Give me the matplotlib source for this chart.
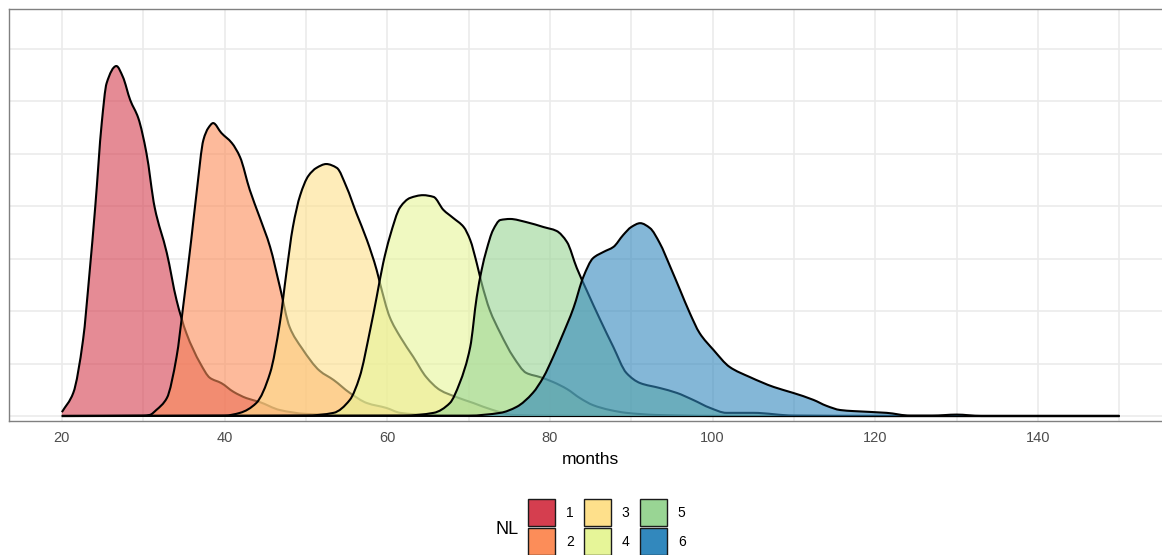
import numpy as np
import matplotlib
matplotlib.use("Agg")
import matplotlib.pyplot as plt
from matplotlib.path import Path
from matplotlib.patches import PathPatch, Rectangle

plt.rcParams['font.family'] = ['Liberation Sans', 'DejaVu Sans']

# ---- data ----
groups = ["1", "2", "3", "4", "5", "6"]
colors = ["#D53E4F", "#FC8D59", "#FEE08B", "#E6F598", "#99D594", "#3288BD"]

nl1_months = [20, 21.4, 22.6, 23.4, 24.1, 24.9, 25.5, 26.7, 27.5, 28.4, 29.4, 30.4, 31.4,
              32.9, 34.1, 35.3, 37.0, 38.2, 39.6, 41.1, 42.7, 44.3, 46.8, 50, 55, 60, 70, 150]
nl1_density = [0.0011, 0.0066, 0.0217, 0.0409, 0.0597, 0.0837, 0.0951, 0.1000, 0.0969, 0.0903,
               0.0851, 0.0751, 0.0597, 0.0466, 0.0331, 0.0237, 0.0151, 0.0109, 0.0094, 0.0069,
               0.0051, 0.0040, 0.0017, 0.0006, 0.0003, 0.0001, 0.0, 0.0]

nl2_months = [20, 30, 30.8, 31.6, 32.9, 34.1, 34.9, 35.9, 36.6, 37.4, 38.0, 38.6, 39.6, 40.9,
              41.9, 43.1, 44.3, 45.6, 46.8, 48.0, 49.5, 51.7, 53.4, 55.4, 57.5, 59.9, 61.6,
              65, 75, 150]
nl2_density = [0.0, 0.0001, 0.0003, 0.0017, 0.0051, 0.0169, 0.0311, 0.0503, 0.0646, 0.0789,
               0.0823, 0.0837, 0.0809, 0.0780, 0.0740, 0.0646, 0.0569, 0.0483, 0.0369, 0.0254,
               0.0194, 0.0129, 0.0103, 0.0066, 0.0037, 0.0023, 0.0009, 0.0003, 0.0, 0.0]

nl3_months = [20, 40, 41.9, 43.9, 45.6, 46.8, 47.6, 48.4, 49.3, 50.3, 51.3, 52.5, 53.8, 55.0,
              56.2, 57.5, 58.7, 59.1, 60.3, 61.6, 63.2, 64.8, 66.5, 68.5, 70.6, 73.0, 75.5,
              80, 90, 150]
nl3_density = [0.0, 0.0001, 0.0009, 0.0037, 0.0123, 0.0266, 0.0409, 0.0540, 0.0631, 0.0686,
               0.0709, 0.0720, 0.0709, 0.0654, 0.0580, 0.0503, 0.0417, 0.0380, 0.0283, 0.0226,
               0.0169, 0.0111, 0.0074, 0.0054, 0.0037, 0.0017, 0.0003, 0.0001, 0.0, 0.0]

nl4_months = [20, 50, 53.4, 55.4, 56.6, 57.9, 58.7, 59.5, 60.3, 61.6, 62.8, 64.4, 65.7, 66.9,
              68.1, 69.4, 70.2, 71.0, 71.6, 72.6, 73.9, 75.5, 77.1, 78.8, 80.4, 82.1, 83.7,
              85.3, 87.4, 89.4, 93, 100, 150]
nl4_density = [0.0, 0.0001, 0.0009, 0.0046, 0.0111, 0.0246, 0.0340, 0.0437, 0.0511, 0.0597,
               0.0623, 0.0631, 0.0626, 0.0589, 0.0566, 0.0540, 0.0503, 0.0437, 0.0380, 0.0303,
               0.0237, 0.0169, 0.0123, 0.0111, 0.0097, 0.0077, 0.0051, 0.0031, 0.0017, 0.0009,
               0.0003, 0.0, 0.0]

nl5_months = [20, 62, 65.7, 67.7, 68.9, 70.2, 71.0, 71.6, 72.2, 73.0, 73.9, 75.1, 77.1, 79.2,
              80.8, 82.1, 83.3, 84.5, 86.2, 87.8, 89.4, 91.1, 93.5, 95.6, 97.6, 99.7, 101.7,
              105, 110, 120, 150]
nl5_density = [0.0, 0.0001, 0.0009, 0.0037, 0.0094, 0.0197, 0.0340, 0.0417, 0.0474, 0.0531,
               0.0560, 0.0563, 0.0554, 0.0540, 0.0529, 0.0497, 0.0423, 0.0360, 0.0274, 0.0197,
               0.0123, 0.0094, 0.0080, 0.0066, 0.0046, 0.0023, 0.0009, 0.0009, 0.0001, 0.0, 0.0]

nl6_months = [20, 70, 73.9, 75.9, 77.9, 79.2, 80.4, 81.4, 82.9, 84.1, 85.3, 86.6, 87.8, 89.0,
              90.0, 91.1, 92.3, 93.5, 94.8, 96.0, 97.2, 98.4, 100.1, 102.1, 104.6, 107.5,
              109.9, 112.4, 114.0, 115.7, 117.3, 121.4, 124.3, 127, 130, 133, 150]
nl6_density = [0.0, 0.0001, 0.0009, 0.0026, 0.0066, 0.0111, 0.0169, 0.0223, 0.0309, 0.0397,
               0.0451, 0.0469, 0.0483, 0.0517, 0.0540, 0.0551, 0.0537, 0.0494, 0.0426, 0.0360,
               0.0294, 0.0237, 0.0189, 0.0140, 0.0111, 0.0083, 0.0066, 0.0046, 0.0029, 0.0017,
               0.0014, 0.0009, 0.0001, 0.0001, 0.0004, 0.0, 0.0]

series_months = [nl1_months, nl2_months, nl3_months, nl4_months, nl5_months, nl6_months]
series_density = [nl1_density, nl2_density, nl3_density, nl4_density, nl5_density, nl6_density]

x_ticks = [20, 40, 60, 80, 100, 120, 140]
x_grid = [20, 30, 40, 50, 60, 70, 80, 90, 100, 110, 120, 130, 140, 150]
y_grid = [0.0, 0.015, 0.03, 0.045, 0.06, 0.075, 0.09, 0.105]


def pchip_slopes(x, y):
    x = np.asarray(x, float)
    y = np.asarray(y, float)
    h = np.diff(x)
    d = np.diff(y) / h
    m = np.zeros_like(y)
    m[0] = d[0]
    m[-1] = d[-1]
    for k in range(1, len(x) - 1):
        if d[k - 1] * d[k] <= 0:
            m[k] = 0.0
        else:
            w1 = 2 * h[k] + h[k - 1]
            w2 = h[k] + 2 * h[k - 1]
            m[k] = (w1 + w2) / (w1 / d[k - 1] + w2 / d[k])
    return m


def smooth_path_vertices(x, y):
    """Vertices/codes of a cubic-Bezier path through the read points."""
    x = np.asarray(x, float)
    y = np.asarray(y, float)
    m = pchip_slopes(x, y)
    verts = [(x[0], y[0])]
    codes = [Path.MOVETO]
    for k in range(len(x) - 1):
        dx = x[k + 1] - x[k]
        verts += [(x[k] + dx / 3, y[k] + m[k] * dx / 3),
                  (x[k + 1] - dx / 3, y[k + 1] - m[k + 1] * dx / 3),
                  (x[k + 1], y[k + 1])]
        codes += [Path.CURVE4] * 3
    return verts, codes


# ---- figure ----
W, H = 1162, 555
fig = plt.figure(figsize=(W / 100, H / 100), dpi=100)
ax_left, ax_right, ax_top, ax_bottom = 9, 1172.2, 9, 421
ax = fig.add_axes([ax_left / W, (H - ax_bottom) / H,
                   (ax_right - ax_left) / W, (ax_bottom - ax_top) / H])

ax.set_xlim(13.5, 156.5)
ax.set_ylim(-0.00143, 0.1163)

for gx in x_grid:
    ax.axvline(gx, color="#ebebeb", lw=1.2, zorder=0)
for gy in y_grid:
    ax.axhline(gy, color="#ebebeb", lw=1.2, zorder=0)

for i, (m, d, c) in enumerate(zip(series_months, series_density, colors)):
    verts, codes = smooth_path_vertices(m, d)
    fill_verts = verts + [(m[-1], 0.0), (m[0], 0.0), (m[0], 0.0)]
    fill_codes = codes + [Path.LINETO, Path.LINETO, Path.CLOSEPOLY]
    ax.add_patch(PathPatch(Path(fill_verts, fill_codes), facecolor=c, alpha=0.6,
                           edgecolor="none", lw=0, zorder=2 + 2 * i))
    ax.add_patch(PathPatch(Path(verts, codes), facecolor="none", edgecolor="black",
                           lw=1.5, zorder=3 + 2 * i, capstyle="butt"))

ax.set_xticks(x_ticks)
ax.set_xticklabels([str(t) for t in x_ticks], fontsize=10.5, color="#4d4d4d")
ax.tick_params(axis="x", length=0, pad=7)
ax.set_yticks([])
ax.set_xlabel("months", fontsize=12.5, color="black", labelpad=5)

for s in ax.spines.values():
    s.set_color("#808080")
    s.set_linewidth(1.0)

# legend (drawn in figure pixel coordinates)
def fx(px):
    return px / W


def fy(py):
    return 1 - py / H


key_w = 26.5
col_x = [528.3, 584.3, 640.3]
row_y = [499.3, 528.3]
for j, (lab, c) in enumerate(zip(groups, colors)):
    col, row = j // 2, j % 2
    x0, y0 = col_x[col], row_y[row]
    fig.add_artist(Rectangle((fx(x0), fy(y0 + key_w)), key_w / W, key_w / H,
                             transform=fig.transFigure, facecolor=c,
                             edgecolor="#1a1a1a", lw=1.0))
    fig.text(fx(x0 + key_w + 11.0), fy(y0 + key_w / 2), lab, fontsize=10,
             ha="left", va="center", color="black")
fig.text(fx(507), fy(530), "NL", fontsize=13, ha="center", va="center")

fig.savefig("out.png", dpi=100)
